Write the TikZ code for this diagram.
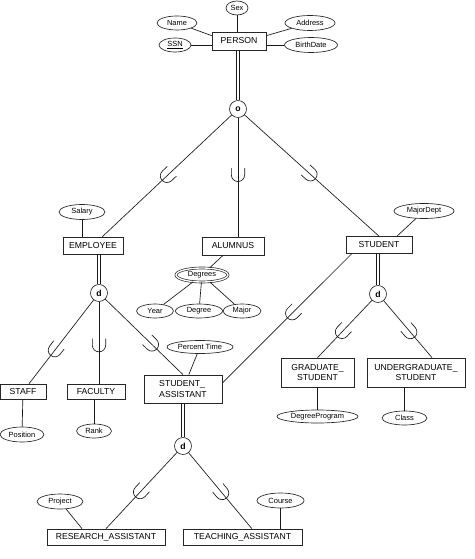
\documentclass[tikz,border=0pt]{standalone}
\usepackage{fontspec}
\setmainfont{Liberation Sans}
\usetikzlibrary{shapes.geometric}
\tikzset{
  ent/.style 2 args={draw=black!85, line width=0.5pt, rectangle, inner sep=0pt, align=center,
     minimum width=#1*0.75pt, minimum height=#2*0.75pt, font=\fontsize{6.5}{7.6}\selectfont},
  attr/.style 2 args={draw=black!85, line width=0.5pt, ellipse, inner sep=0pt,
     minimum width=#1*0.75pt, minimum height=#2*0.75pt, font=\fontsize{5.6}{6.5}\selectfont},
  spec/.style={draw=black!85, line width=0.5pt, circle, inner sep=0pt, minimum size=17*0.75pt,
     font=\fontsize{6.5}{7}\selectfont\bfseries},
  conn/.style={draw=black!90, line width=0.5pt},
  dblL/.style={draw=black!90, line width=0.5pt, transform canvas={xshift=-0.9pt}},
  dblR/.style={draw=black!90, line width=0.5pt, transform canvas={xshift=0.9pt}},
  subs/.pic={\draw[black!90, line width=0.5pt] (-5pt,5pt) -- (0pt,5pt) arc (90:-90:5pt) -- (-5pt,-5pt);},
  subsat/.style={pos=#1, sloped, allow upside down}
}
\begin{document}
\begin{tikzpicture}[x=0.75pt, y=-0.75pt]
\useasboundingbox (0,0) rectangle (474,559);
% top
\node[ent={54}{18}] (person) at (239,41) {PERSON};
\node[attr={22}{14}] (sex) at (237,8) {Sex};
\node[attr={40}{14}] (name) at (177,23) {Name};
\node[attr={32}{14}] (ssn) at (175,45) {\underline{SSN}};
\node[attr={50}{15}] (address) at (310,23) {Address};
\node[attr={53}{15}] (bdate) at (311,45) {BirthDate};
\node[spec] (o) at (238,109) {o};
\draw[conn] (sex) -- (sex |- person.north);
\draw[conn] (name) -- ([yshift=-3pt]person.north west);
\draw[conn] (ssn) -- (person.west |- ssn);
\draw[conn] (address) -- ([yshift=-3pt]person.north east);
\draw[conn] (bdate) -- (person.east |- bdate);
\coordinate (pb) at (person.south -| o);
\draw[dblL] (pb) -- (o.north);
\draw[dblR] (pb) -- (o.north);
% second level
\node[ent={60}{17}] (emp) at (93,245.5) {EMPLOYEE};
\node[attr={46}{15}] (salary) at (82,212) {Salary};
\node[ent={62}{18}] (alu) at (233,246) {ALUMNUS};
\node[ent={66}{17}] (stu) at (379,245) {STUDENT};
\node[attr={60}{15}] (mdept) at (424,211) {MajorDept};
\node[attr={52}{14}, double, double distance=1pt] (degs) at (202,275) {Degrees};
\node[attr={37}{14}] (year) at (155,311) {Year};
\node[attr={47}{14}] (degree) at (199,311) {Degree};
\node[attr={38}{14}] (major) at (242,311) {Major};
\draw[conn] (o) -- pic[subsat=0.5]{subs} (emp);
\draw[conn] (o) -- pic[subsat=0.48]{subs} (o |- alu.north);
\draw[conn] (o) -- pic[subsat=0.49]{subs} (stu.north);
\draw[conn] (salary) -- (salary |- emp.north);
\draw[conn] (mdept) -- ([xshift=13.5pt]stu.north);
\draw[conn] (degs) -- (alu);
\draw[conn] (degs) -- (year);
\draw[conn] (degs) -- (degree);
\draw[conn] (degs) -- (major);
% employee specialization
\node[spec] (d1) at (99,293) {d};
\coordinate (eb) at (emp.south -| d1);
\draw[dblL] (eb) -- (d1.north);
\draw[dblR] (eb) -- (d1.north);
\node[ent={46}{15}] (staff) at (23,391.5) {STAFF};
\node[attr={44}{15}] (position) at (22,434.5) {Position};
\node[ent={58}{15}] (fac) at (96,391.5) {FACULTY};
\node[attr={35}{14}] (rank) at (94,431) {Rank};
\node[ent={78}{28}, align=left] (sa) at (183,389) {STUDENT\_\\ASSISTANT};
\node[attr={66}{13}] (ptime) at (200,347) {Percent Time};
\draw[conn] (d1) -- pic[subsat=0.6]{subs} (staff);
\draw[conn] (d1) -- pic[subsat=0.53]{subs} (d1 |- fac.north);
\draw[conn] (d1) -- pic[subsat=0.6]{subs} (sa.north);
\draw[conn] (staff) -- (position);
\draw[conn] (rank) -- (rank |- fac.south);
\draw[conn] (ptime) -- (sa);
\draw[conn] ([xshift=4.5pt]stu.south west) -- pic[subsat=0.46]{subs} ([yshift=4.5pt]sa.east);
% student specialization
\node[spec] (d2) at (378,294) {d};
\coordinate (sb) at (stu.south -| d2);
\draw[dblL] (sb) -- (d2.north);
\draw[dblR] (sb) -- (d2.north);
\node[ent={73}{29}] (grad) at (317.5,372.5) {GRADUATE\_\\STUDENT};
\node[ent={98}{29}] (ugrad) at (416,372.5) {UNDERGRADUATE\_\\STUDENT};
\node[attr={81}{13}] (dprog) at (317.5,416.5) {DegreeProgram};
\node[attr={45}{14}] (class) at (404.5,418) {Class};
\draw[conn] (d2) -- pic[subsat=0.55]{subs} (grad.north);
\draw[conn] (d2) -- pic[subsat=0.55]{subs} ([xshift=12pt]ugrad.north);
\draw[conn] (dprog) -- (dprog |- grad.south);
\draw[conn] (class) -- (class |- ugrad.south);
% student assistant specialization
\node[spec] (d3) at (183,446) {d};
\coordinate (sab) at (sa.south -| d3);
\draw[dblL] (sab) -- (d3.north);
\draw[dblR] (sab) -- (d3.north);
\node[ent={118}{16}] (ra) at (106,537) {RESEARCH\_ASSISTANT};
\node[ent={119}{16}] (ta) at (242.5,537) {TEACHING\_ASSISTANT};
\node[attr={46}{15}] (project) at (60,501.5) {Project};
\node[attr={47}{15}] (course) at (280.5,500.5) {Course};
\draw[conn] (d3) -- pic[subsat=0.52]{subs} (ra.north);
\draw[conn] (d3) -- pic[subsat=0.53]{subs} ([xshift=7pt]ta.north);
\draw[conn] (project) -- ([xshift=-18pt]ra.north);
\draw[conn] (course) -- (course |- ta.north);
\end{tikzpicture}
\end{document}
